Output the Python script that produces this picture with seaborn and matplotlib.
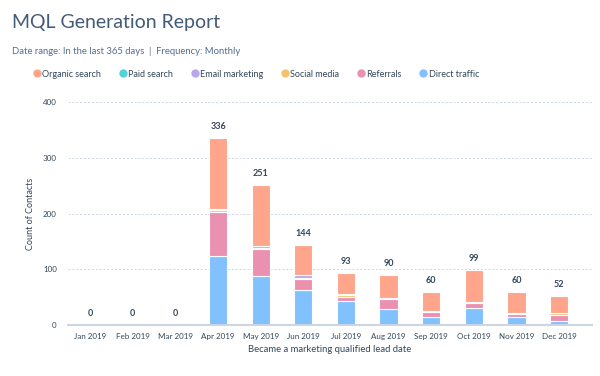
import numpy as np
import pandas as pd
import matplotlib
matplotlib.use("Agg")
import matplotlib.pyplot as plt
from matplotlib.lines import Line2D
import seaborn as sns

# data
months = ["Jan 2019", "Feb 2019", "Mar 2019", "Apr 2019", "May 2019", "Jun 2019",
          "Jul 2019", "Aug 2019", "Sep 2019", "Oct 2019", "Nov 2019", "Dec 2019"]
sources = ["Organic search", "Paid search", "Email marketing", "Social media", "Referrals", "Direct traffic"]
organic_search = [0, 0, 0, 127, 109, 55, 37, 41, 35, 58, 39, 31]
paid_search = [0, 0, 0, 0, 0, 0, 0, 0, 0, 0, 0, 0]
email_marketing = [0, 0, 0, 3, 4, 4, 2, 0, 0, 0, 0, 0]
social_media = [0, 0, 0, 4, 2, 2, 3, 3, 2, 2, 2, 3]
referrals = [0, 0, 0, 78, 48, 21, 8, 18, 8, 9, 5, 10]
direct_traffic = [0, 0, 0, 124, 88, 62, 43, 28, 15, 30, 14, 8]
colors = ["#ffa58c", "#51d3d9", "#b9a5ec", "#f5c26b", "#ea90b1", "#81c1fd"]

series = [organic_search, paid_search, email_marketing, social_media, referrals, direct_traffic]
rows = []
for src, vals in zip(sources, series):
    for m, v in zip(months, vals):
        rows.append({"month": m, "source": src, "count": v})
df = pd.DataFrame(rows)
df["month"] = pd.Categorical(df["month"], categories=months, ordered=True)
totals = df.groupby("month", observed=False)["count"].sum().reindex(months).values

sns.set_style("white")
plt.rcParams["font.family"] = ["Lato", "DejaVu Sans"]

dark = "#33475b"
mid = "#516f90"
grid = "#cbd6e2"

fig = plt.figure(figsize=(6, 3.76), dpi=100)
ax = fig.add_axes([0.1133, 0.1356, 0.8733, 0.593])

sns.histplot(data=df, x="month", hue="source", weights="count", hue_order=sources,
             palette=colors, multiple="stack", discrete=True, shrink=0.43,
             edgecolor="white", linewidth=0.8, alpha=1, legend=False, ax=ax)

for i, t in enumerate(totals):
    ax.annotate(f"{int(t)}", (i, t), xytext=(0, 5), textcoords="offset points",
                ha="center", va="bottom", fontsize=6.5, fontweight="bold", color=dark)

ax.set_ylim(0, 400)
ax.set_xlim(-0.52, 11.77)
ax.set_yticks([0, 100, 200, 300, 400])
ax.set_xticks(range(len(months)))
ax.set_xticklabels(months)
ax.yaxis.grid(True, linestyle=(0, (2, 2)), color=grid, linewidth=0.7)
ax.set_axisbelow(True)
for s in ["top", "right", "left"]:
    ax.spines[s].set_visible(False)
ax.spines["bottom"].set_color(grid)
ax.spines["bottom"].set_linewidth(1.5)
ax.tick_params(axis="x", direction="in", length=3, color=grid, labelsize=5.8,
               labelcolor=dark, pad=6)
ax.tick_params(axis="y", length=0, labelsize=5.8, labelcolor=dark, pad=8)
ax.set_xlabel("Became a marketing qualified lead date", fontsize=6.8, color=dark, labelpad=3)
ax.set_ylabel("Count of Contacts", fontsize=6.5, color=dark, labelpad=6)

fig.text(0.02, 0.94, "MQL Generation Report", fontsize=14, color="#425b76",
         fontweight="normal", va="center")
fig.text(0.02, 0.862, "Date range: In the last 365 days  |  Frequency: Monthly",
         fontsize=6.8, color=mid, va="center")

handles = [Line2D([], [], marker="o", linestyle="none", markersize=5,
                  markerfacecolor=c, markeredgecolor=c) for c in colors]
fig.legend(handles, sources, loc="center left", bbox_to_anchor=(0.04, 0.803), ncol=6,
           frameon=False, fontsize=6.5, labelcolor=dark, handletextpad=0.1,
           columnspacing=1.9, handlelength=1.0)

fig.savefig("out.png", dpi=100, facecolor="white")
